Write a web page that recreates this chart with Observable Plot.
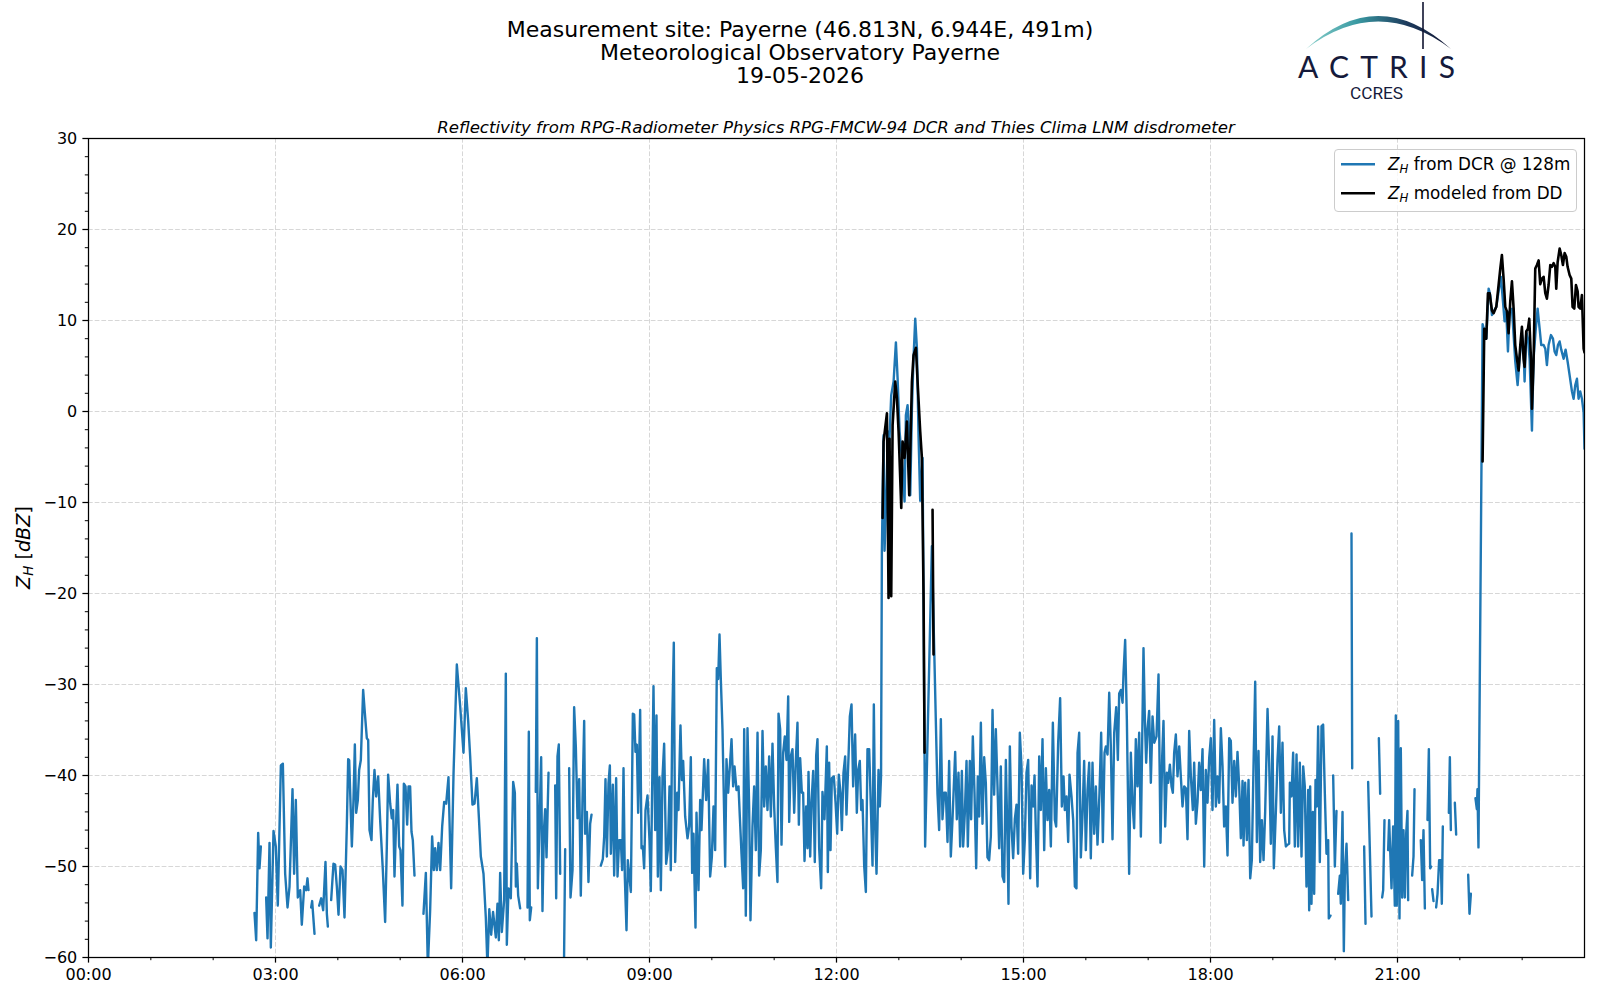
<!DOCTYPE html>
<html>
<head>
<meta charset="utf-8">
<script src="https://cdn.jsdelivr.net/npm/d3@7"></script>
<script src="https://cdn.jsdelivr.net/npm/@observablehq/plot@0.6"></script>
<style>
  html, body { margin: 0; padding: 0; background: #fff; }
  #page { position: relative; width: 1600px; height: 1000px; background: #fff; font-family: "DejaVu Sans", sans-serif; overflow: hidden; }
  #header { position: absolute; left: 0; top: 0; z-index: 2; }
  #chart { position: absolute; left: 0; top: 100px; z-index: 1; }
</style>
</head>
<body>
<div id="page">
  <svg id="header" width="1600" height="112" xmlns="http://www.w3.org/2000/svg">
    <defs>
      <linearGradient id="arcg" x1="1306" y1="0" x2="1451" y2="0" gradientUnits="userSpaceOnUse">
        <stop offset="0" stop-color="#8ad0cb"/>
        <stop offset="0.35" stop-color="#3a9aa3"/>
        <stop offset="0.7" stop-color="#1d3a5c"/>
        <stop offset="1" stop-color="#101430"/>
      </linearGradient>
    </defs>
    <g font-family="DejaVu Sans" font-size="22" text-anchor="middle" fill="#000">
      <text x="800" y="36.5">Measurement site: Payerne (46.813N, 6.944E, 491m)</text>
      <text x="800" y="59.5">Meteorological Observatory Payerne</text>
      <text x="800" y="82.5">19-05-2026</text>
    </g>
    <g id="logo">
      <path d="M1306,49 Q1378,-17 1451,49 Q1378,-6 1306,49 Z" fill="url(#arcg)"/>
      <line x1="1423" y1="2" x2="1423" y2="49" stroke="#101430" stroke-width="1.6"/>
      <text x="1298" y="78" font-family="Lato" font-weight="400" font-size="30" fill="#151a3b" textLength="157" lengthAdjust="spacing">ACTRIS</text>
      <text x="1350" y="99" font-family="Roboto" font-size="16" fill="#151a3b" textLength="53" lengthAdjust="spacingAndGlyphs">CCRES</text>
    </g>
  </svg>
  <div id="chart"></div>
</div>
<script>
// ---------- tick definitions ----------
const xTickHours = [0, 3, 6, 9, 12, 15, 18, 21];
const xMinorHours = [1, 2, 4, 5, 7, 8, 10, 11, 13, 14, 16, 17, 19, 20, 22, 23];
const yTicks = [-60, -50, -40, -30, -20, -10, 0, 10, 20, 30];
const yMinorTicks = [-58, -56, -54, -52, -48, -46, -44, -42, -38, -36, -34, -32, -28, -26, -24, -22, -18, -16, -14, -12, -8, -6, -4, -2, 2, 4, 6, 8, 12, 14, 16, 18, 22, 24, 26, 28];

const G = NaN; // missing sample (gap)

// ---------- Z_H from DCR @ 128 m : [hour UTC, dBZ] ----------
const dcrNight = [
  [2.663,-55.1],[2.690,-58.1],[2.722,-46.3],[2.743,-50.2],[2.765,-47.8],[2.80,G],
  [2.850,-53.4],[2.872,-57.9],[2.904,-47.4],[2.925,-58.9],[2.968,-46.1],[3.005,-47.8],[3.037,-54.3],[3.086,-38.9],[3.118,-38.7],[3.155,-50.8],[3.193,-54.5],[3.225,-52.2],[3.273,-41.5],[3.299,-50.8],[3.326,-42.7],[3.358,-53.4],[3.396,-52.6],[3.422,-56.4],[3.460,-52.2],[3.492,-52.6],[3.513,-51.3],[3.529,-52.6],[3.55,G],
  [3.572,-54.5],[3.588,-53.8],[3.626,-57.4],[3.66,G],
  [3.701,-54.3],[3.733,-53.5],[3.765,-54.8],[3.802,-49.5],[3.824,-55.2],[3.840,-56.6],[3.87,G],
  [3.893,-53.7],[3.930,-49.7],[3.957,-49.8],[3.984,-52.2],[4.011,-55.3],[4.043,-50.0],[4.075,-50.4],[4.107,-55.6],[4.144,-45.6],[4.166,-38.2],[4.182,-38.3],[4.225,-47.8],[4.251,-42.7],[4.273,-36.6],[4.294,-44.1],[4.321,-42.7],[4.342,-39.4],[4.369,-38.3],[4.406,-30.6],[4.433,-33.1],[4.465,-35.9],[4.487,-36.1],[4.508,-46.0],[4.540,-47.1],[4.561,-42.7],[4.588,-39.4],[4.615,-42.3],[4.647,-40.1],[4.679,-44.9],[4.722,-50.4],[4.759,-56.1],[4.786,-47.8],[4.807,-39.9],[4.840,-43.1],[4.866,-44.7],[4.888,-43.8],[4.909,-51.1],[4.936,-44.9],[4.957,-41.0],[4.984,-47.8],[5.005,-48.2],[5.037,-54.3],[5.059,-40.9],[5.086,-41.2],[5.112,-45.4],[5.134,-41.2],[5.160,-41.2],[5.182,-46.2],[5.203,-47.1],[5.230,-51.0],[5.30,G],
  [5.374,-55.2],[5.412,-50.7],[5.444,-61.0],[5.481,-54.8],[5.513,-46.7],[5.540,-50.4],[5.561,-48.0],[5.588,-50.4],[5.615,-47.4],[5.642,-50.4],[5.674,-45.6],[5.706,-42.9],[5.738,-43.1],[5.775,-40.2],[5.818,-52.4],[5.856,-39.8],[5.909,-27.8],[5.963,-32.4],[6.016,-37.5],[6.053,-30.4],[6.091,-34.0],[6.123,-37.9],[6.160,-43.2],[6.193,-43.1],[6.230,-40.3],[6.262,-44.5],[6.294,-48.9],[6.337,-50.8],[6.374,-55.6],[6.400,-61.0],[6.430,-54.7],[6.460,-57.5],[6.490,-55.0]
];
const dcrMorning = [
  [6.535,-57.8],[6.561,-54.1],[6.583,-58.1],[6.604,-50.7],[6.631,-57.2],[6.668,-53.7],[6.695,-28.8],[6.711,-58.6],[6.738,-52.4],[6.775,-53.5],[6.813,-40.7],[6.840,-41.9],[6.856,-52.2],[6.872,-49.7],[6.893,-53.2],[6.925,-54.6],[6.98,G],
  [7.043,-54.5],[7.064,-35.2],[7.080,-55.9],[7.102,-54.5],[7.14,G],
  [7.176,-41.8],[7.193,-24.9],[7.209,-52.4],[7.262,-38.0],[7.283,-54.9],[7.305,-46.2],[7.326,-43.7],[7.348,-49.0],[7.380,-39.7],[7.43,G],
  [7.487,-41.1],[7.503,-53.5],[7.524,-37.9],[7.545,-36.6],[7.567,-50.8],[7.60,G],
  [7.628,-61.0],[7.647,-48.1],[7.68,G],
  [7.711,-39.2],[7.733,-53.4],[7.765,-50.4],[7.791,-32.5],[7.818,-36.8],[7.845,-44.7],[7.872,-40.4],[7.898,-53.2],[7.925,-42.7],[7.952,-34.0],[7.968,-46.4],[7.995,-44.0],[8.021,-51.7],[8.048,-45.3],[8.070,-44.3],[8.15,G],
  [8.219,-49.9],[8.251,-49.2],[8.273,-46.7],[8.294,-40.4],[8.316,-48.9],[8.342,-40.9],[8.364,-38.9],[8.380,-48.6],[8.412,-41.0],[8.433,-51.0],[8.465,-40.3],[8.487,-51.1],[8.513,-47.1],[8.540,-47.1],[8.561,-50.4],[8.583,-39.2],[8.604,-51.1],[8.631,-57.0],[8.652,-49.3],[8.701,-52.8],[8.733,-33.2],[8.754,-33.3],[8.775,-37.4],[8.797,-36.6],[8.818,-44.1],[8.850,-32.8],[8.872,-48.0],[8.893,-47.8],[8.914,-50.2],[8.936,-43.8],[8.968,-42.2],[9.000,-47.1],[9.021,-52.7],[9.064,-30.2],[9.091,-46.0],[9.112,-33.4],[9.134,-51.1],[9.160,-40.2],[9.182,-52.6],[9.209,-40.1],[9.235,-36.5],[9.267,-49.7],[9.294,-48.2],[9.321,-41.2],[9.342,-50.4],[9.364,-34.4],[9.390,-25.4],[9.412,-49.5],[9.444,-41.9],[9.465,-43.8],[9.497,-34.5],[9.519,-40.5],[9.540,-38.4],[9.572,-44.5],[9.610,-46.9],[9.636,-45.6],[9.663,-38.0],[9.684,-50.7],[9.706,-46.4],[9.738,-56.7],[9.754,-44.1],[9.786,-52.6],[9.813,-42.7],[9.834,-46.0],[9.877,-38.2],[9.909,-42.7],[9.941,-38.3],[9.973,-51.1],[10.000,-49.0],[10.027,-43.4],[10.053,-48.2],[10.080,-28.2],[10.102,-29.4],[10.123,-24.5],[10.144,-29.4],[10.171,-34.9],[10.214,-50.0],[10.235,-38.2],[10.262,-41.9],[10.289,-39.0],[10.316,-36.0],[10.342,-41.2],[10.364,-39.0],[10.396,-41.6],[10.428,-41.2],[10.449,-44.5],[10.476,-48.6],[10.503,-52.4],[10.519,-34.9],[10.545,-55.4],[10.572,-34.8],[10.599,-43.6],[10.620,-55.9],[10.652,-45.6],[10.679,-41.2],[10.706,-48.2],[10.733,-35.3],[10.759,-51.0]
];
const dcrMidday = [
  [10.786,-48.2],[10.813,-35.1],[10.840,-43.4],[10.866,-39.0],[10.893,-43.8],[10.920,-37.9],[10.947,-44.5],[10.973,-36.5],[11.000,-43.4],[11.027,-48.0],[11.053,-51.7],[11.070,-33.2],[11.096,-34.9],[11.118,-47.6],[11.144,-37.5],[11.171,-35.7],[11.198,-38.3],[11.225,-31.3],[11.241,-45.1],[11.267,-37.9],[11.294,-37.1],[11.321,-44.1],[11.348,-38.3],[11.374,-34.2],[11.396,-45.4],[11.417,-38.1],[11.444,-41.9],[11.465,-41.9],[11.487,-49.4],[11.513,-43.4],[11.535,-48.0],[11.551,-39.6],[11.578,-48.9],[11.599,-43.0],[11.626,-39.5],[11.652,-49.5],[11.674,-37.8],[11.695,-36.0],[11.722,-48.0],[11.754,-52.4],[11.775,-41.8],[11.807,-44.8],[11.845,-36.8],[11.861,-50.6],[11.882,-38.6],[11.904,-48.2],[11.925,-40.3],[11.957,-40.1],[11.984,-42.9],[12.011,-46.4],[12.037,-39.9],[12.064,-41.9],[12.086,-46.0],[12.112,-39.7],[12.139,-37.9],[12.160,-44.3],[12.193,-37.9],[12.214,-33.5],[12.241,-32.2],[12.267,-41.2],[12.299,-35.5],[12.326,-44.1],[12.348,-39.4],[12.374,-38.4],[12.396,-43.8],[12.417,-42.7],[12.444,-49.9],[12.471,-52.8],[12.497,-37.1],[12.524,-37.1],[12.551,-43.4],[12.578,-49.9],[12.599,-32.2],[12.620,-45.6],[12.642,-50.8],[12.674,-39.4],[12.695,-43.4],[12.715,-40.0],
  [12.728,-15.4],[12.755,-2.6],[12.771,-15.3],[12.798,-9.5],[12.825,-2.2],[12.846,-3.7],[12.878,1.8],[12.916,3.3],[12.953,7.6],[12.980,3.7],[13.012,-2.2],[13.049,-5.1],[13.092,-9.9],[13.113,-0.4],[13.140,0.7],[13.162,-1.8],[13.183,-9.2],[13.210,0.3],[13.236,5.9],[13.263,10.2],[13.290,7.0],[13.317,-2.9],[13.343,-9.8],[13.381,-5.1],[13.422,-47.8],[13.530,-14.8],[13.620,-42.0],
  [13.647,-46.0],[13.674,-33.8],[13.700,-44.8],[13.727,-41.9],[13.754,-41.9],[13.781,-47.3],[13.807,-38.4],[13.834,-48.9],[13.861,-44.8],[13.882,-41.2],[13.904,-37.4],[13.930,-44.8],[13.957,-39.7],[13.984,-47.8],[14.011,-39.5],[14.032,-47.8],[14.059,-44.1],[14.086,-38.4],[14.107,-47.8],[14.139,-38.4],[14.160,-44.8],[14.187,-35.7],[14.214,-41.9],[14.241,-50.2],[14.267,-40.1],[14.289,-44.5],[14.316,-34.2],[14.342,-45.3],[14.369,-38.0],[14.396,-40.9],[14.422,-49.0],[14.449,-49.3],[14.476,-46.7],[14.503,-32.8],[14.529,-42.1],[14.556,-34.9],[14.583,-41.2],[14.610,-48.0],[14.636,-39.0],[14.663,-51.1],[14.690,-51.7],[14.717,-38.3],[14.743,-47.1],[14.759,-54.1],[14.781,-36.8],[14.807,-45.6],[14.834,-49.1],[14.861,-44.8],[14.888,-43.2],[14.914,-48.6],[14.941,-35.3],[14.968,-39.0],[14.995,-50.8],[15.021,-47.1],[15.048,-39.7],[15.075,-38.3]
];
const dcrAfternoon = [
  [15.107,-51.3],[15.129,-41.1],[15.155,-43.4],[15.177,-40.0],[15.198,-46.2],[15.225,-52.2],[15.252,-37.9],[15.278,-43.8],[15.305,-36.0],[15.332,-48.2],[15.359,-39.2],[15.385,-44.9],[15.412,-41.6],[15.439,-47.8],[15.471,-34.2],[15.503,-44.9],[15.524,-45.6],[15.556,-36.4],[15.588,-31.5],[15.615,-43.4],[15.642,-40.1],[15.663,-43.8],[15.690,-42.3],[15.717,-47.3],[15.738,-39.9],[15.770,-42.3],[15.797,-44.9],[15.824,-52.2],[15.850,-52.4],[15.867,-37.5],[15.893,-35.3],[15.920,-49.0],[15.947,-44.3],[15.973,-38.4],[16.000,-48.2],[16.027,-41.6],[16.054,-38.6],[16.080,-49.1],[16.107,-38.6],[16.134,-46.4],[16.161,-41.2],[16.187,-47.6],[16.219,-41.9],[16.246,-35.3],[16.273,-47.3],[16.300,-37.5],[16.321,-36.8],[16.348,-37.7],[16.375,-30.9],[16.401,-36.8],[16.428,-47.0],[16.455,-35.3],[16.487,-32.5],[16.514,-38.3],[16.535,-31.0],[16.562,-30.6],[16.589,-32.0],[16.605,-28.7],[16.631,-25.1],[16.658,-33.8],[16.695,-50.8],[16.722,-37.5],[16.749,-43.0],[16.775,-45.8],[16.802,-36.0],[16.829,-41.2],[16.856,-35.3],[16.883,-46.7],[16.909,-33.8],[16.925,-26.0],[16.947,-33.8],[16.968,-38.6],[16.990,-34.9],[17.016,-32.9],[17.043,-40.8],[17.070,-33.5],[17.097,-36.4],[17.134,-35.7],[17.166,-28.9],[17.198,-47.4],[17.225,-37.9],[17.246,-34.0],[17.273,-45.6],[17.300,-39.7],[17.321,-40.8],[17.348,-38.8],[17.375,-41.2],[17.396,-41.9],[17.417,-37.5],[17.444,-35.5],[17.471,-40.1],[17.498,-36.8],[17.524,-40.1],[17.551,-43.4],[17.578,-41.2],[17.605,-41.4],[17.631,-47.0],[17.658,-35.1],[17.685,-40.1],[17.717,-43.8],[17.738,-38.6],[17.765,-45.3],[17.792,-42.9],[17.818,-38.6],[17.845,-41.6],[17.872,-37.1],[17.899,-50.0],[17.925,-39.4],[17.952,-43.0],[17.979,-38.1],[18.005,-35.9],[18.032,-43.8],[18.059,-33.9],[18.086,-43.4],[18.112,-40.1],[18.139,-43.0],[18.166,-34.8],[18.193,-39.0],[18.219,-45.6],[18.246,-43.4],[18.273,-48.8],[18.300,-35.9],[18.326,-36.2],[18.353,-43.0],[18.380,-38.4],[18.407,-42.3],[18.433,-37.4],[18.460,-41.2],[18.487,-46.9],[18.514,-40.6],[18.530,-47.7],[18.556,-40.8],[18.583,-47.1],[18.610,-40.5],[18.637,-51.3],[18.663,-49.3],[18.690,-39.0],[18.717,-29.7],[18.744,-47.3],[18.770,-37.3],[18.797,-49.5],[18.824,-44.9],[18.851,-49.3],[18.877,-44.0],[18.915,-32.7],[18.941,-38.6],[18.968,-47.5],[18.995,-35.7],[19.016,-50.2],[19.048,-44.1],[19.075,-38.3],[19.102,-34.6],[19.129,-44.1],[19.155,-36.4],[19.182,-46.0],[19.209,-47.8],[19.236,-47.6],[19.262,-47.5]
];
const dcrEvening = [
  [19.273,-40.8],[19.299,-42.3],[19.326,-37.5],[19.353,-47.8],[19.380,-37.7],[19.406,-47.8],[19.433,-38.6],[19.460,-48.9],[19.487,-39.0],[19.513,-41.2],[19.540,-52.2],[19.567,-41.6],[19.583,-54.8],[19.599,-41.2],[19.620,-54.1],[19.642,-44.0],[19.663,-53.0],[19.685,-40.5],[19.706,-43.4],[19.727,-34.6],[19.754,-49.5],[19.781,-34.6],[19.807,-34.4],[19.834,-41.9],[19.861,-48.6],[19.888,-47.1],[19.898,-55.7],[19.925,-55.4],[19.95,G],
  [19.968,-40.0],[19.995,-50.0],[20.021,-43.9],[20.035,G],
  [20.048,-53.0],[20.075,-51.0],[20.091,-54.1],[20.118,-44.0],[20.139,-59.3],[20.155,-51.0],[20.182,-47.5],[20.209,-53.7],[20.24,G],
  [20.262,-13.4],[20.273,-39.2],[20.35,G],
  [20.465,-47.8],[20.487,-56.3],[20.51,G],
  [20.529,-40.7],[20.583,-55.5],[20.65,G],
  [20.701,-35.9],[20.722,-42.0],[20.74,G],
  [20.754,-53.4],[20.770,-52.6],[20.791,-44.9],[20.82,G],
  [20.850,-48.2],[20.866,-44.9],[20.904,-52.4],[20.930,-45.6],[20.957,-54.3],[20.973,-33.4],[20.989,-54.3],[21.011,-34.0],[21.032,-55.7],[21.053,-37.0],[21.075,-53.4],[21.096,-46.0],[21.118,-53.4],[21.139,-46.4],[21.160,-43.9],[21.171,-53.7],[21.20,G],
  [21.235,-51.0],[21.257,-48.9],[21.273,-41.5],[21.32,G],
  [21.374,-47.1],[21.396,-51.5],[21.417,-46.0],[21.439,-54.6],[21.46,G],
  [21.481,-44.9],[21.503,-37.1],[21.524,-50.2],[21.540,-50.0],[21.548,G],
  [21.556,-52.5],[21.578,-53.8],[21.60,G],
  [21.620,-54.5],[21.642,-53.0],[21.668,-49.3],[21.695,-49.3],[21.711,-54.1],[21.727,-45.6],[21.78,G],
  [21.824,-44.1],[21.840,-38.0],[21.856,-46.0],[21.89,G],
  [21.920,-43.0],[21.941,-46.5],[22.05,G],
  [22.134,-50.9],[22.155,-55.2],[22.177,-53.0],[22.22,G],
  [22.251,-42.5],[22.273,-43.7],[22.283,-41.5],[22.299,-47.9],
  [22.365,9.6],[22.424,8.0],[22.462,13.5],[22.488,12.8],[22.515,10.6],[22.542,11.0],[22.585,11.5],[22.622,13.2],[22.659,14.8],[22.692,12.1],[22.718,9.9],[22.745,11.0],[22.772,6.6],[22.798,11.0],[22.836,11.3],[22.863,8.4],[22.889,5.5],[22.927,2.9],[22.959,5.8],[22.996,8.4],[23.023,6.6],[23.039,3.3],[23.066,8.8],[23.093,8.0],[23.119,5.8],[23.157,-2.1],[23.183,5.8],[23.215,8.8],[23.248,11.3],[23.280,9.1],[23.306,7.3],[23.344,7.3],[23.371,6.9],[23.397,5.1],[23.424,7.3],[23.462,8.4],[23.494,8.0],[23.520,6.6],[23.547,6.2],[23.574,7.3],[23.601,7.7],[23.627,6.8],[23.665,5.8],[23.697,6.8],[23.729,5.5],[23.761,4.0],[23.799,2.2],[23.825,1.4],[23.852,2.9],[23.879,3.6],[23.905,1.4],[23.932,2.2],[23.959,1.4],[23.986,-0.1],[24.0,-4.1]
];

// ---------- Z_H modeled from disdrometer (DD) : [hour UTC, dBZ] ----------
const ddMidday = [
  [12.739,-11.7],[12.755,-3.3],[12.809,-0.2],[12.835,-20.5],[12.851,-3.0],[12.878,-20.3],[12.900,-1.5],[12.942,3.3],[12.969,1.5],[12.996,-2.2],[13.039,-10.6],[13.060,-3.3],[13.092,-5.1],[13.129,-1.1],[13.167,-9.2],[13.210,3.3],[13.236,6.2],[13.274,7.0],[13.306,2.6],[13.343,-2.2],[13.370,-5.1],[13.397,-20.5],[13.413,-37.5],[13.48,G],
  [13.541,-10.8],[13.557,-26.7]
];
const ddEvening = [
  [22.365,-5.5],[22.392,9.1],[22.424,8.0],[22.451,13.0],[22.478,13.0],[22.515,11.1],[22.542,10.8],[22.585,11.5],[22.622,13.9],[22.649,15.7],[22.675,17.2],[22.702,14.6],[22.729,11.5],[22.756,11.0],[22.782,8.6],[22.809,12.1],[22.836,14.3],[22.863,11.3],[22.889,7.3],[22.916,5.8],[22.943,4.5],[22.970,7.3],[22.996,9.3],[23.023,5.8],[23.039,4.9],[23.066,8.8],[23.093,9.1],[23.114,10.2],[23.141,5.8],[23.157,0.3],[23.183,5.5],[23.210,15.7],[23.237,16.1],[23.264,16.6],[23.290,14.0],[23.317,14.6],[23.344,14.8],[23.371,13.0],[23.397,12.4],[23.424,13.9],[23.451,16.1],[23.478,15.9],[23.504,16.3],[23.531,15.9],[23.547,13.5],[23.569,16.4],[23.601,17.9],[23.627,17.2],[23.654,16.1],[23.681,17.4],[23.708,17.0],[23.729,15.9],[23.761,15.0],[23.788,14.6],[23.809,11.5],[23.836,11.3],[23.863,13.9],[23.890,13.2],[23.905,11.5],[23.932,11.3],[23.959,12.8],[23.986,6.9],[24.0,6.5]
];

const toRows = arr => arr.map(([h, z]) => ({h, z}));
const dcr = toRows([...dcrNight, ...dcrMorning, ...dcrMidday, ...dcrAfternoon, ...dcrEvening]);
const dd = toRows([...ddMidday, [18, G], ...ddEvening]);

const BLUE = "#1f77b4";
const fmtHour = h => String(h).padStart(2, "0") + ":00";
const fmtNum = v => v < 0 ? "\u2212" + Math.abs(v) : String(v);
const gridStyle = {stroke: "#b0b0b0", strokeOpacity: 0.5, strokeWidth: 1, strokeDasharray: "4.7,2"};

const chart = Plot.plot({
  width: 1600,
  height: 900,
  marginLeft: 88,
  marginRight: 16,
  marginTop: 38,
  marginBottom: 43,
  x: {type: "linear", domain: [0, 24]},
  y: {type: "linear", domain: [-60, 30]},
  style: {fontFamily: "DejaVu Sans", fontSize: "16px", color: "#000", background: "#fff", overflow: "visible"},
  marks: [
    Plot.gridX(xTickHours, gridStyle),
    Plot.gridY(yTicks, gridStyle),
    Plot.line(dcr, {x: "h", y: "z", stroke: BLUE, strokeWidth: 2.4, strokeLinejoin: "round", clip: true}),
    Plot.line(dd, {x: "h", y: "z", stroke: "#000", strokeWidth: 2.6, strokeLinejoin: "round", clip: true}),
    Plot.frame({stroke: "#000", strokeWidth: 1.25}),
    Plot.axisX(xTickHours, {tickSize: 5.6, tickPadding: 5.6, tickFormat: fmtHour, label: null, fontSize: 16, strokeWidth: 1.25}),
    Plot.axisX(xMinorHours, {tickSize: 3.2, tickFormat: () => "", label: null, strokeWidth: 1}),
    Plot.axisY(yTicks, {tickSize: 5.6, tickPadding: 5.6, tickFormat: fmtNum, label: null, fontSize: 16, strokeWidth: 1.25}),
    Plot.axisY(yMinorTicks, {tickSize: 3.2, tickFormat: () => "", label: null, strokeWidth: 1})
  ]
});

document.getElementById("chart").appendChild(chart);

// ---------- decorations inside the chart SVG ----------
const svg = d3.select(chart);
const plotLeft = 88, plotRight = 1600 - 16, plotTop = 38;

// axes title (subtitle)
svg.append("text")
  .attr("x", (plotLeft + plotRight) / 2).attr("y", 32.5)
  .attr("text-anchor", "middle")
  .attr("font-family", "DejaVu Sans").attr("font-size", 16.6).attr("font-style", "italic")
  .attr("fill", "#000")
  .text("Reflectivity from RPG-Radiometer Physics RPG-FMCW-94 DCR and Thies Clima LNM disdrometer");

// y label  Z_H [dBZ]
const yl = svg.append("text")
  .attr("transform", `translate(29.5,${(plotTop + 857) / 2}) rotate(-90)`)
  .attr("text-anchor", "middle")
  .attr("font-family", "DejaVu Sans").attr("font-size", 19.2).attr("fill", "#000");
yl.append("tspan").attr("font-style", "italic").text("Z");
yl.append("tspan").attr("font-style", "italic").attr("font-size", 13.4).attr("dy", 3.5).text("H");
yl.append("tspan").attr("dy", -3.5).text(" [");
yl.append("tspan").attr("font-style", "italic").text("dBZ");
yl.append("tspan").text("]");

// legend
const lg = svg.append("g").attr("font-family", "DejaVu Sans").attr("font-size", 16.8).attr("text-anchor", "start");
lg.append("rect")
  .attr("x", 1334.5).attr("y", 49.5).attr("width", 242).attr("height", 62).attr("rx", 3.5)
  .attr("fill", "#fff").attr("fill-opacity", 0.8).attr("stroke", "#cccccc").attr("stroke-width", 1);
const entries = [
  {color: BLUE, rest: " from DCR @ 128m", y: 64.3},
  {color: "#000", rest: " modeled from DD", y: 93.3}
];
entries.forEach(e => {
  lg.append("line").attr("x1", 1341).attr("x2", 1375).attr("y1", e.y).attr("y2", e.y)
    .attr("stroke", e.color).attr("stroke-width", 2.6);
  const t = lg.append("text").attr("x", 1388).attr("y", e.y + 6).attr("fill", "#000").attr("text-anchor", "start");
  t.append("tspan").attr("font-style", "italic").text("Z");
  t.append("tspan").attr("font-style", "italic").attr("font-size", 11.8).attr("dy", 3).text("H");
  t.append("tspan").attr("dy", -3).text(e.rest);
});
</script>
</body>
</html>
